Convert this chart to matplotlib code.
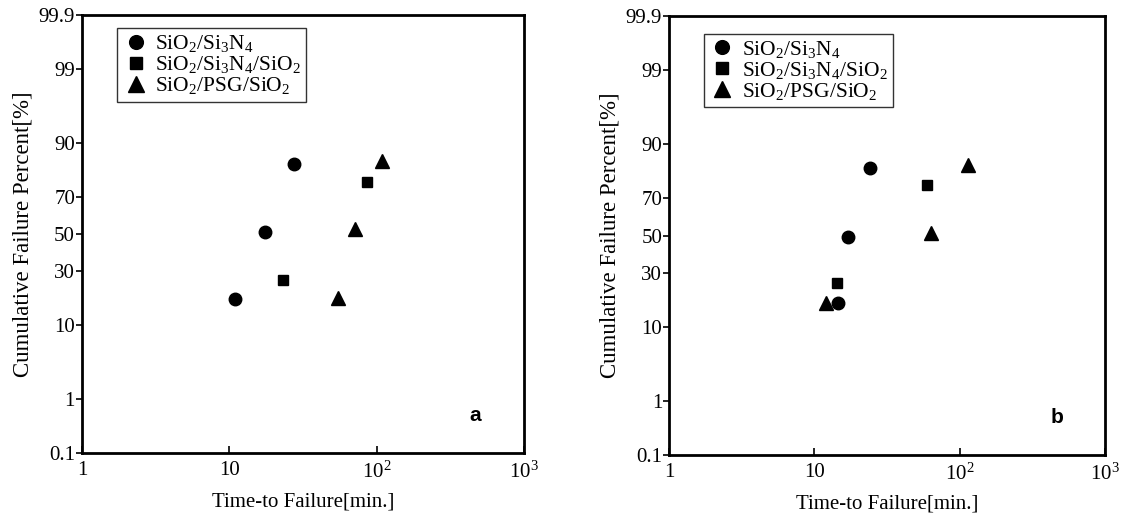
import statistics

import numpy as np
import matplotlib
matplotlib.use('Agg')
import matplotlib.pyplot as plt

plt.rcParams['font.family'] = 'Liberation Serif'
plt.rcParams['mathtext.fontset'] = 'custom'
plt.rcParams['mathtext.rm'] = 'Liberation Serif'
plt.rcParams['mathtext.it'] = 'Liberation Serif:italic'

# panel a
circ_a_t = [11.0, 17.6, 27.4]
circ_a_f = [18, 51, 84]
sq_a_t = [23.1, 85.4]
sq_a_f = [26, 77]
tri_a_t = [54.9, 71.8, 108]
tri_a_f = [18.5, 53, 85]

# panel b
circ_b_t = [14.6, 16.9, 24.3]
circ_b_f = [17, 49, 83]
sq_b_t = [14.4, 59.2]
sq_b_f = [25, 76]
tri_b_t = [12.1, 63, 113.5]
tri_b_f = [17, 51.5, 84]

labels = ['SiO$_2$/Si$_3$N$_4$',
          'SiO$_2$/Si$_3$N$_4$/SiO$_2$',
          'SiO$_2$/PSG/SiO$_2$']
y_ticks = [0.1, 1, 10, 30, 50, 70, 90, 99, 99.9]
y_ticklabels = ['0.1', '1', '10', '30', '50', '70', '90', '99', '99.9']
x_ticks = [1, 10, 100, 1000]
x_ticklabels = ['1', '10', '10$^2$', '10$^3$']

nd = statistics.NormalDist()
_ppf = np.vectorize(lambda v: nd.inv_cdf(v / 100.0), otypes=[float])
_cdf = np.vectorize(lambda v: nd.cdf(v) * 100.0, otypes=[float])


def probit(p):
    p = np.clip(np.asarray(p, dtype=float), 1e-6, 100 - 1e-6)
    return _ppf(p)


def probit_inv(z):
    return _cdf(np.asarray(z, dtype=float))


def panel(ax, data, letter, leg_pos):
    (ct, cf), (st, sf), (tt, tf) = data
    ax.set_xscale('log')
    ax.set_yscale('function', functions=(probit, probit_inv))
    ax.plot(ct, cf, 'o', color='black', markersize=9, label=labels[0])
    ax.plot(st, sf, 's', color='black', markersize=7.5, label=labels[1])
    ax.plot(tt, tf, '^', color='black', markersize=10, label=labels[2])

    ax.set_xlim(1, 1000)
    ax.set_ylim(0.1, 99.9)
    ax.set_yticks(y_ticks)
    ax.set_yticklabels(y_ticklabels)
    ax.set_xticks(x_ticks)
    ax.set_xticklabels(x_ticklabels)
    ax.minorticks_off()
    ax.tick_params(axis='y', direction='out', length=4, width=1.2,
                   labelsize=15, pad=1)
    ax.tick_params(axis='x', direction='in', length=5, width=1.2,
                   labelsize=15, pad=6)
    for s in ax.spines.values():
        s.set_linewidth(2)

    ax.set_xlabel('Time-to Failure[min.]', fontsize=15, labelpad=7)
    ax.set_ylabel('Cumulative Failure Percent[%]', fontsize=16.5, labelpad=4)

    leg = ax.legend(loc='upper left', bbox_to_anchor=leg_pos, fontsize=15.5,
                    frameon=True, fancybox=False, edgecolor='black',
                    borderpad=0.25, labelspacing=0.0, handletextpad=0.3,
                    handlelength=1.2, borderaxespad=0, markerscale=1.1)
    leg.get_frame().set_linewidth(1)

    ax.text(0.89, 0.085, letter, transform=ax.transAxes, fontsize=15,
            fontweight='bold', family='Liberation Sans', ha='center', va='center')


fig = plt.figure(figsize=(11.29, 5.18), dpi=100)
ax_a = fig.add_axes([0.0726, 0.1255, 0.3915, 0.8456])
ax_b = fig.add_axes([0.5926, 0.1216, 0.3862, 0.8475])

panel(ax_a, [(circ_a_t, circ_a_f), (sq_a_t, sq_a_f), (tri_a_t, tri_a_f)], 'a',
      (0.08, 0.97))
panel(ax_b, [(circ_b_t, circ_b_f), (sq_b_t, sq_b_f), (tri_b_t, tri_b_f)], 'b',
      (0.08, 0.96))

fig.savefig('out.png', dpi=100)
plt.close(fig)
